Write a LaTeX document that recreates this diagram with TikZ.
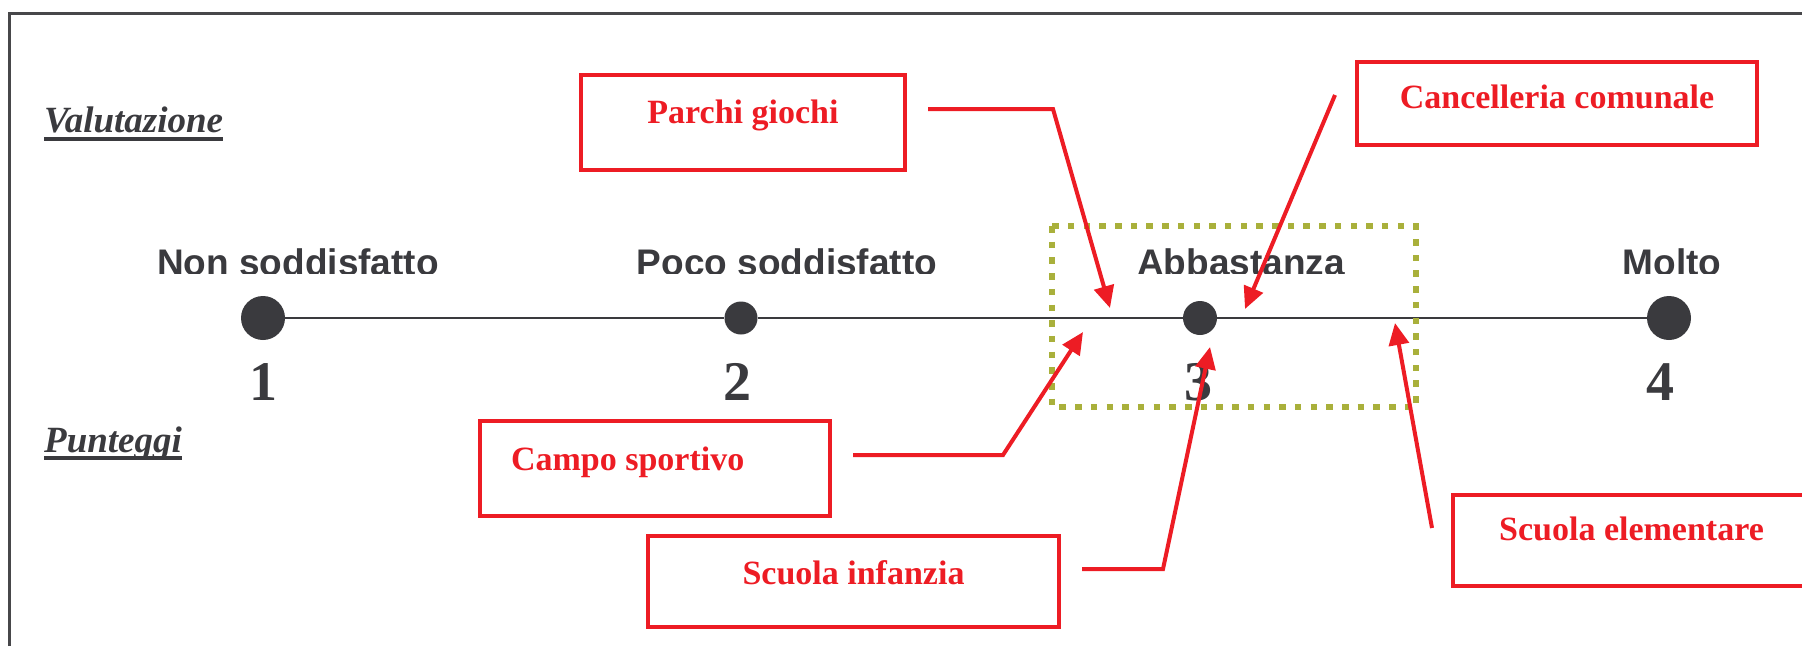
\documentclass[tikz,border=0pt]{standalone}
\usepackage{fontspec}
\setmainfont{Liberation Serif}
\setsansfont{Liberation Sans}
\usetikzlibrary{arrows.meta}
\definecolor{inkgray}{HTML}{3A3A3E}
\definecolor{framegray}{HTML}{47474A}
\definecolor{tagred}{HTML}{ED1C24}
\definecolor{olive}{HTML}{A9B03B}
\tikzset{
	scoredot/.style={circle,fill=inkgray,inner sep=0pt,minimum size=#1},
	ratinglabel/.style={font=\sffamily\bfseries\fontsize{37}{40}\selectfont,text=inkgray,inner sep=0pt,anchor=base},
	scorenum/.style={font=\bfseries\fontsize{56}{60}\selectfont,text=inkgray,inner sep=0pt,anchor=base},
	heading/.style={font=\bfseries\itshape\fontsize{37}{40}\selectfont,text=inkgray,inner sep=0pt,anchor=base west},
	tag/.style={draw=tagred,line width=4pt,text=tagred,font=\bfseries\fontsize{34}{38}\selectfont,inner sep=0pt,text height=24pt},
	pointer/.style={draw=tagred,line width=4pt,-{Triangle[length=22pt,width=20pt]}}
}
\begin{document}
\begin{tikzpicture}[x=1pt,y=-1pt]
	\useasboundingbox (0,0) rectangle (1802,646);
	\draw[framegray,line width=3pt] (9,646) -- (9,13) -- (1802,13);

	% titoli a sinistra
	\node[heading] (valut) at (44,132) {Valutazione};
	\draw[inkgray,line width=3.5pt] ([yshift=-7pt]valut.base west) -- ([yshift=-7pt]valut.base east);
	\node[heading] (punt) at (44,452) {Punteggi};
	\draw[inkgray,line width=3.5pt] ([yshift=-6pt]punt.base west) -- ([yshift=-6pt]punt.base east);

	% scala
	\begin{scope}
		\clip (0,0) rectangle (1802,273);
		\node[ratinglabel] (l1) at (298,275.5) {Non soddisfatto};
		\node[ratinglabel] (l2) at (787,275.5) {Poco soddisfatto};
		\node[ratinglabel] (l3) at (1241,275.5) {Abbastanza};
		\node[ratinglabel] (l4) at (1672,275.5) {Molto};
	\end{scope}
	\node[scoredot=44pt] (p1) at (263,318) {};
	\node[scoredot=33pt] (p2) at (741,318) {};
	\node[scoredot=34pt] (p3) at (1200,318) {};
	\node[scoredot=44pt] (p4) at (1669,318) {};
	\draw[inkgray,line width=2.5pt] (p1) -- (p2) -- (p3) -- (p4);
	\node[scorenum] (n1) at (263,400) {1};
	\node[scorenum] (n2) at (737,400) {2};
	\node[scorenum] (n3) at (1198,400) {3};
	\node[scorenum] (n4) at (1660,400) {4};

	\draw[olive,line width=6.5pt,dash pattern=on 6.5pt off 9.2pt] (1052,226) rectangle (1416,407);

	% servizi
	\node[tag,minimum width=324pt,minimum height=95pt,text depth=23pt] (parchi) at (743,122.5) {Parchi giochi};
	\node[tag,minimum width=400pt,minimum height=83pt,text depth=15pt] (cancel) at (1557,103.5) {Cancelleria comunale};
	\node[tag,inner xsep=31pt,minimum height=95pt,text depth=21pt] (campo) at (655,468.5) {\makebox[288pt][l]{Campo sportivo}};
	\node[tag,minimum width=411pt,minimum height=91pt,text depth=19pt] (infanzia) at (853.5,581.5) {Scuola infanzia};
	\node[tag,minimum width=357pt,minimum height=91pt,text depth=24pt] (element) at (1631.5,540.5) {Scuola elementare};

	\coordinate (parchi-a) at (928,109);
	\coordinate (parchi-b) at (1053,109);
	\coordinate (parchi-t) at (1110,308);
	\coordinate (cancel-a) at (1335,95);
	\coordinate (cancel-t) at (1245,309);
	\coordinate (campo-a) at (853,455);
	\coordinate (campo-b) at (1003,455);
	\coordinate (campo-t) at (1083,332);
	\coordinate (infanzia-a) at (1082,569);
	\coordinate (infanzia-b) at (1163,569);
	\coordinate (infanzia-t) at (1210,347);
	\coordinate (element-a) at (1432,528);
	\coordinate (element-t) at (1395,323);
	\draw[pointer] (parchi-a) -- (parchi-b) -- (parchi-t);
	\draw[pointer] (cancel-a) -- (cancel-t);
	\draw[pointer] (campo-a) -- (campo-b) -- (campo-t);
	\draw[pointer] (infanzia-a) -- (infanzia-b) -- (infanzia-t);
	\draw[pointer] (element-a) -- (element-t);
\end{tikzpicture}
\end{document}
